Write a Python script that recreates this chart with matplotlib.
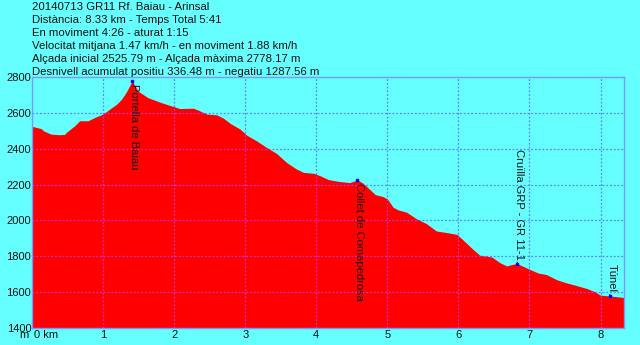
import matplotlib.pyplot as plt

plt.rcParams['font.family'] = ['Liberation Sans', 'DejaVu Sans']
plt.rcParams['font.size'] = 8

# elevation profile of the track (km, m)
dist_km = [0.00, 0.13, 0.16, 0.27, 0.39, 0.46, 0.48, 0.60, 0.67, 0.79,
           0.88, 1.00, 1.09, 1.19, 1.26, 1.33, 1.41, 1.49, 1.63, 1.82,
           1.96, 2.08, 2.27, 2.34, 2.46, 2.60, 2.69, 2.79, 2.93, 3.02,
           3.16, 3.30, 3.44, 3.58, 3.72, 3.82, 3.96, 4.05, 4.17, 4.31,
           4.47, 4.53, 4.58, 4.66, 4.76, 4.83, 4.94, 5.00, 5.08, 5.15,
           5.27, 5.41, 5.55, 5.69, 5.84, 5.98, 6.07, 6.21, 6.30, 6.47,
           6.59, 6.68, 6.75, 6.83, 6.91, 7.01, 7.12, 7.24, 7.38, 7.52,
           7.66, 7.81, 7.92, 8.00, 8.13, 8.33]
elev_m = [2525, 2512, 2500, 2481, 2478, 2480, 2490, 2528, 2556, 2556,
          2574, 2593, 2620, 2648, 2676, 2718, 2778, 2722, 2685, 2657,
          2639, 2624, 2626, 2615, 2593, 2589, 2571, 2541, 2509, 2476,
          2444, 2407, 2374, 2324, 2287, 2268, 2263, 2250, 2228, 2218,
          2211, 2219, 2226, 2207, 2170, 2144, 2133, 2120, 2074, 2059,
          2046, 2009, 1982, 1941, 1932, 1922, 1889, 1837, 1806, 1796,
          1763, 1746, 1754, 1759, 1744, 1726, 1707, 1698, 1670, 1652,
          1637, 1620, 1602, 1583, 1579, 1570]

# waypoints
wp_names = ['Portella de Baiau', 'Collet de Comapedrosa',
            'Cruïlla GRP - GR 11-1', 'Túnel']
wp_km = [1.41, 4.58, 6.83, 8.13]
wp_elev = [2778, 2226, 1759, 1579]

header = ['20140713 GR11 Rf. Baiau - Arinsal',
          'Distància: 8.33 km - Temps Total 5:41',
          'En moviment 4:26 - aturat 1:15',
          'Velocitat mitjana 1.47 km/h - en moviment 1.88 km/h',
          'Alçada inicial 2525.79 m - Alçada màxima 2778.17 m',
          'Desnivell acumulat positiu 336.48 m - negatiu 1287.56 m']

x_ticks = [0, 1, 2, 3, 4, 5, 6, 7, 8]
y_ticks = [1400, 1600, 1800, 2000, 2200, 2400, 2600, 2800]

sky = '#66ffff'
ground = '#ff0000'
grid_sky = '#5588ff'
grid_ground = '#cc33cc'
border = '#7799ff'

W, H = 640, 345
fig = plt.figure(figsize=(6.4, 3.45), dpi=100, facecolor=sky)
ax = fig.add_axes([32 / W, 1 - 328 / H, (624 - 32) / W, (328 - 77) / H])
ax.set_facecolor(sky)

ax.set_xlim(0, 8.33)
ax.set_ylim(1400, 2800)

# grid behind the profile (over the sky)
for x in x_ticks[1:]:
    ax.axvline(x, color=grid_sky, ls=(0, (1.5, 1.5)), lw=0.9, zorder=0.5)
for y in y_ticks[1:-1]:
    ax.axhline(y, color=grid_sky, ls=(0, (1.5, 1.5)), lw=0.9, zorder=0.5)

poly = ax.fill_between(dist_km, elev_m, 1400, color=ground, lw=0, zorder=1)
clip = poly.get_paths()[0]

# grid over the red area, clipped to the profile
for x in x_ticks[1:]:
    ln = ax.axvline(x, color=grid_ground, ls=(0, (1.5, 1.5)), lw=0.9, zorder=2)
    ln.set_clip_path(clip, ax.transData)
for y in y_ticks[1:-1]:
    ln = ax.axhline(y, color=grid_ground, ls=(0, (1.5, 1.5)), lw=0.9, zorder=2)
    ln.set_clip_path(clip, ax.transData)

for s in ax.spines.values():
    s.set_color(border)
    s.set_linewidth(1)

ax.set_xticks(x_ticks)
ax.set_xticklabels([''] + [str(v) for v in x_ticks[1:]])
ax.set_yticks(y_ticks)
ax.set_yticklabels([str(v) for v in y_ticks])
ax.tick_params(axis='both', length=0, labelcolor='#111111')
ax.tick_params(axis='x', pad=1.5)
ax.tick_params(axis='y', pad=0.5)

ax.annotate('0 km', xy=(0, 0), xycoords='axes fraction', xytext=(1.2, -1.5),
            textcoords='offset points', ha='left', va='top', color='#111111')
ax.annotate('m', xy=(0, 0), xycoords='axes fraction', xytext=(-2.2, -1.5),
            textcoords='offset points', ha='right', va='top', color='#111111')

# waypoints with vertical labels
below = [True, True, False, False]
for name, xk, ye, dn in zip(wp_names, wp_km, wp_elev, below):
    ax.plot([xk], [ye], marker='s', ms=2, color='#0000ff', mec='#0000ff',
            zorder=4, clip_on=False)
    if dn:
        ax.annotate(name, xy=(xk, ye), xytext=(-1.0, -2.5),
                    textcoords='offset points', rotation=-90,
                    rotation_mode='anchor', ha='left', va='baseline',
                    color='#111111', zorder=5)
    else:
        ax.annotate(name, xy=(xk, ye), xytext=(-1.0, 3),
                    textcoords='offset points', rotation=-90,
                    rotation_mode='anchor', ha='right', va='baseline',
                    color='#111111', zorder=5,
                    arrowprops=dict(arrowstyle='-', color='#0000ff', lw=0.8,
                                    shrinkA=0, shrinkB=0))

for i, line in enumerate(header):
    fig.text(32 / W, 1 - (7 + 13 * i) / H, line, ha='left', va='center',
             color='#111111', fontsize=8.2)

fig.savefig('out.png', dpi=100, facecolor=sky)
